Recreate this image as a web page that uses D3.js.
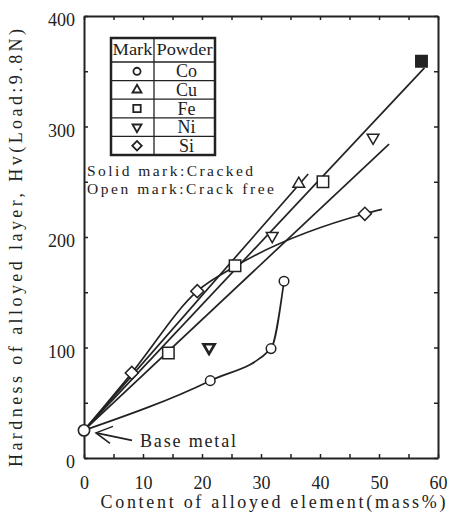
<!DOCTYPE html>
<html><head><meta charset="utf-8">
<script src="https://cdn.jsdelivr.net/npm/d3@7"></script>
<style>
body{margin:0;background:#fff}
svg{display:block}
text{font-family:"Liberation Serif","DejaVu Serif",serif;fill:#222}
</style>
</head><body><svg id="c" width="454" height="520"></svg>
<script>
// ---- data ----
const xTickValues=[0,5,10,15,20,25,30,35,40,45,50,55,60];
const yTickValues=[0,50,100,150,200,250,300,350,400];
const coPts=[[0,25],[21.4,70],[31.7,99],[33.9,160]];
const cuPts=[[36.4,248]];
const cuLine=[[0,25],[38,257]];
const fePts=[[14.3,95],[25.6,174],[40.5,250]];
const feSolid=[[57.2,359]];
const feLine=[[0,25],[57.7,353]];
const niPts=[[21.2,100],[31.9,201],[49,290]];
const niLine=[[0,25],[51.7,284]];
const siPts=[[8.1,77],[19.2,151],[47.6,221]];
const siLine=[[0,25],[8.1,77],[19.2,151],[25.5,173],[47.6,221],[50.5,225]];
const basePt=[0,25];
const legendMarks=["circle","triUp","square","triDown","diamond"];
const legendNames=["Co","Cu","Fe","Ni","Si"];

const svg=d3.select("#c");
const x=d3.scaleLinear([0,60],[84,438]);
const y=d3.scaleLinear([0,400],[458,16]);
const ink="#222";

// axes (ticks inward)
function styleAxis(g){
  g.select(".domain").attr("stroke",ink).attr("stroke-width",2);
  g.selectAll(".tick line").attr("stroke",ink).attr("stroke-width",1.5);
  g.selectAll(".tick text").attr("font-size",18).attr("fill",ink)
    .style("font-family",'"Liberation Serif",serif');
}
svg.append("g").attr("transform",`translate(0,${y(0)})`)
  .call(d3.axisBottom(x).tickValues(xTickValues).tickSizeInner(-4).tickSizeOuter(0)
    .tickPadding(18).tickFormat(d=>d%10===0?d:""))
  .call(styleAxis);
svg.append("g").attr("transform",`translate(0,${y(400)})`)
  .call(d3.axisTop(x).tickValues(xTickValues).tickSizeInner(-4).tickSizeOuter(0).tickFormat(""))
  .call(styleAxis);
svg.append("g").attr("transform",`translate(${x(0)},0)`)
  .call(d3.axisLeft(y).tickValues(yTickValues).tickSizeInner(-4).tickSizeOuter(0)
    .tickPadding(9).tickFormat(d=>d%100===0?d:""))
  .call(styleAxis)
  .selectAll(".tick text").attr("dy","0.55em");
svg.append("g").attr("transform",`translate(${x(60)},0)`)
  .call(d3.axisRight(y).tickValues(yTickValues).tickSizeInner(-4).tickSizeOuter(0).tickFormat(""))
  .call(styleAxis);

// axis titles
svg.append("text").attr("x",273).attr("y",508).attr("text-anchor","middle")
  .attr("font-size",18).attr("textLength",345).attr("lengthAdjust","spacing")
  .text("Content of alloyed element(mass%)");
svg.append("text").attr("transform","translate(22,248) rotate(-90)")
  .attr("text-anchor","middle").attr("font-size",18)
  .attr("textLength",438).attr("lengthAdjust","spacing")
  .text("Hardness of alloyed layer, Hv(Load:9.8N)");

// lines
const line=d3.line().x(d=>x(d[0])).y(d=>y(d[1]));
const curve=d3.line().x(d=>x(d[0])).y(d=>y(d[1])).curve(d3.curveMonotoneX);
const lg=svg.append("g").attr("fill","none").attr("stroke",ink).attr("stroke-width",1.7);
lg.append("path").attr("d",line(cuLine));
lg.append("path").attr("d",line(feLine));
lg.append("path").attr("d",line(niLine));
lg.append("path").attr("d",curve(siLine));
lg.append("path").attr("d",curve(coPts));

// markers
function sym(type,size){
  if(type==="circle") return d3.symbol(d3.symbolCircle,size)();
  if(type==="square"||type==="diamond") return d3.symbol(d3.symbolSquare,size)();
  return d3.symbol(d3.symbolTriangle,size)();
}
function rot(type){return type==="triDown"?180:type==="diamond"?45:0;}
function drawMarks(data,type,size,filled,sw){
  svg.append("g").selectAll("path").data(data).join("path")
    .attr("d",sym(type,size))
    .attr("transform",d=>`translate(${x(d[0])},${y(d[1])}) rotate(${rot(type)})`)
    .attr("fill",filled?ink:"#fff").attr("stroke",ink).attr("stroke-width",sw||1.5);
}
drawMarks(coPts.slice(1),"circle",72,false);
drawMarks(cuPts,"triUp",60,false);
drawMarks(fePts,"square",130,false);
drawMarks(feSolid,"square",130,true);
drawMarks(niPts.slice(0,1),"triDown",55,false,2.6);
drawMarks(niPts.slice(1),"triDown",60,false);
drawMarks(siPts,"diamond",85,false);
drawMarks([basePt],"circle",100,false,1.6);

// base metal annotation
const bx=x(basePt[0]), by=y(basePt[1]);
const ag=svg.append("g").attr("stroke",ink).attr("stroke-width",1.6).attr("fill","none");
ag.append("line").attr("x1",bx+12).attr("y1",by+2.5).attr("x2",bx+48).attr("y2",by+10);
ag.append("polyline").attr("points",`${bx+29},${by-4} ${bx+12},${by+2.5} ${bx+26},${by+13}`);
svg.append("text").attr("x",bx+56).attr("y",by+17).attr("font-size",18)
  .attr("textLength",96).attr("lengthAdjust","spacing").text("Base metal");

// legend table
const tL=111,tR=215,tT=38,tH=62,rowH=18.6,colX=154;
const tb=svg.append("g");
tb.append("rect").attr("x",tL).attr("y",tT).attr("width",tR-tL).attr("height",tH-tT+rowH*5)
  .attr("fill","#fff").attr("stroke",ink).attr("stroke-width",2.5);
tb.append("line").attr("x1",colX).attr("x2",colX).attr("y1",tT).attr("y2",tH+rowH*5)
  .attr("stroke",ink).attr("stroke-width",1.3);
d3.range(5).forEach(i=>{
  tb.append("line").attr("x1",tL).attr("x2",tR).attr("y1",tH+rowH*i).attr("y2",tH+rowH*i)
    .attr("stroke",ink).attr("stroke-width",i===0?1.5:1.2);
});
tb.append("text").attr("x",(tL+colX)/2).attr("y",tT+17).attr("text-anchor","middle")
  .attr("font-size",17).attr("textLength",40).attr("lengthAdjust","spacingAndGlyphs").text("Mark");
tb.append("text").attr("x",(colX+tR)/2).attr("y",tT+17).attr("text-anchor","middle")
  .attr("font-size",17).attr("textLength",56).attr("lengthAdjust","spacingAndGlyphs").text("Powder");
legendNames.forEach((n,i)=>{
  const cy=tH+rowH*i+rowH/2;
  tb.append("path").attr("d",sym(legendMarks[i],legendMarks[i]==="square"?55:legendMarks[i]==="circle"?40:legendMarks[i]==="diamond"?45:35))
    .attr("transform",`translate(137,${cy}) rotate(${rot(legendMarks[i])})`)
    .attr("fill","#fff").attr("stroke",ink).attr("stroke-width",1.8);
  tb.append("text").attr("x",(colX+tR)/2+2).attr("y",cy+6).attr("text-anchor","middle")
    .attr("font-size",18).text(n);
});

svg.append("text").attr("x",87).attr("y",176).attr("font-size",15.5)
  .attr("textLength",166).attr("lengthAdjust","spacing").text("Solid mark:Cracked");
svg.append("text").attr("x",87).attr("y",194).attr("font-size",15.5)
  .attr("textLength",187).attr("lengthAdjust","spacing").text("Open mark:Crack free");
</script>
</body></html>
